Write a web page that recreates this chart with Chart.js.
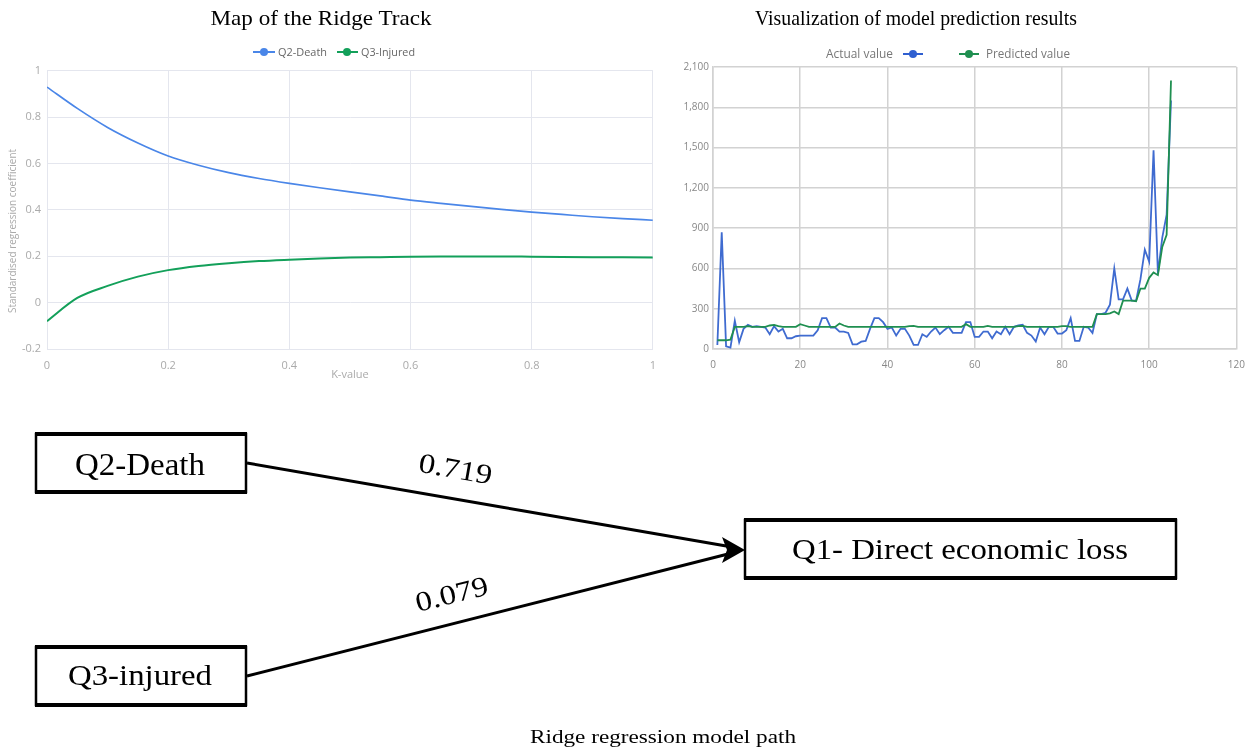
<!DOCTYPE html>
<html><head><meta charset="utf-8">
<script src="https://cdn.jsdelivr.net/npm/chart.js@4.4.1/dist/chart.umd.min.js"></script>
<style>
html,body{margin:0;padding:0;background:#fff;width:1258px;height:755px;overflow:hidden;position:relative;}
#c1{position:absolute;left:0;top:58px;}
#c2{position:absolute;left:670px;top:57px;}
#ov{position:absolute;left:0;top:0;pointer-events:none;}
</style></head><body>
<canvas id="c1" width="666" height="327"></canvas>
<canvas id="c2" width="585" height="323"></canvas>
<svg id="ov" width="1258" height="755" xmlns="http://www.w3.org/2000/svg">
  <g font-family="'Liberation Serif','Times New Roman',serif" fill="#000">
    <text x="321" y="25" text-anchor="middle" font-size="22" textLength="221" lengthAdjust="spacingAndGlyphs">Map of the Ridge Track</text>
    <text x="916" y="25" text-anchor="middle" font-size="21" textLength="322" lengthAdjust="spacingAndGlyphs">Visualization of model prediction results</text>
  </g>
  <!-- left legend -->
  <g font-family="'Open Sans',Roboto,sans-serif" font-size="11" fill="#666">
    <line x1="253" y1="52" x2="275" y2="52" stroke="#4a86e8" stroke-width="2"/>
    <circle cx="264" cy="52" r="4" fill="#4a86e8"/>
    <text x="278" y="56" textLength="49" lengthAdjust="spacingAndGlyphs">Q2-Death</text>
    <line x1="337" y1="52" x2="358" y2="52" stroke="#13a05a" stroke-width="2"/>
    <circle cx="347" cy="52" r="4" fill="#13a05a"/>
    <text x="361" y="56" textLength="54" lengthAdjust="spacingAndGlyphs">Q3-Injured</text>
  </g>
  <text transform="translate(16,231) rotate(-90)" text-anchor="middle" font-family="'Open Sans',Roboto,sans-serif" font-size="10" fill="#aaa">Standardised regression coefficient</text>
  <!-- right legend -->
  <g font-family="'Open Sans',Roboto,sans-serif" font-size="12" fill="#777">
    <text x="826" y="58" textLength="67" lengthAdjust="spacingAndGlyphs">Actual value</text>
    <line x1="903" y1="54" x2="923" y2="54" stroke="#2f5fd0" stroke-width="2"/>
    <circle cx="913" cy="54" r="4" fill="#2f5fd0"/>
    <line x1="959" y1="54" x2="979" y2="54" stroke="#1f8f50" stroke-width="2"/>
    <circle cx="969" cy="54" r="4" fill="#1f8f50"/>
    <text x="986" y="58" textLength="84" lengthAdjust="spacingAndGlyphs">Predicted value</text>
  </g>
  <!-- path diagram -->
  <g stroke="#000" fill="none">
    <rect x="36" y="434" width="210" height="58" stroke-width="2.5"/>
    <line x1="35" y1="434" x2="247" y2="434" stroke-width="4"/>
    <line x1="35" y1="492" x2="247" y2="492" stroke-width="4"/>
    <rect x="36" y="647" width="210" height="58" stroke-width="2.5"/>
    <line x1="35" y1="647" x2="247" y2="647" stroke-width="4"/>
    <line x1="35" y1="705" x2="247" y2="705" stroke-width="4"/>
    <rect x="745" y="520" width="431" height="58" stroke-width="2.5"/>
    <line x1="744" y1="520" x2="1177" y2="520" stroke-width="4"/>
    <line x1="744" y1="578" x2="1177" y2="578" stroke-width="4"/>
    <line x1="247" y1="463" x2="732" y2="547" stroke-width="3"/>
    <line x1="247" y1="676" x2="732" y2="553" stroke-width="3"/>
  </g>
  <polygon points="745,550 722,537 727,550 722,563" fill="#000"/>
  <g font-family="'Liberation Serif','Times New Roman',serif" fill="#000">
    <text x="75" y="475" font-size="31" textLength="130" lengthAdjust="spacingAndGlyphs">Q2-Death</text>
    <text x="68" y="685" font-size="30" textLength="144" lengthAdjust="spacingAndGlyphs">Q3-injured</text>
    <text x="792" y="559" font-size="30" textLength="336" lengthAdjust="spacingAndGlyphs">Q1- Direct economic loss</text>
    <text transform="translate(454,478) rotate(10)" text-anchor="middle" font-size="28" textLength="74" lengthAdjust="spacingAndGlyphs">0.719</text>
    <text transform="translate(454,603) rotate(-14)" text-anchor="middle" font-size="28" textLength="74" lengthAdjust="spacingAndGlyphs">0.079</text>
    <text x="663" y="743" text-anchor="middle" font-size="19" textLength="266" lengthAdjust="spacingAndGlyphs">Ridge regression model path</text>
  </g>
</svg>
<script>
// ---- Ridge trace data ----
const kValues = [0,0.05,0.1,0.15,0.2,0.25,0.3,0.35,0.4,0.45,0.5,0.55,0.6,0.65,0.7,0.75,0.8,0.85,0.9,0.95,1];
const deathCoef = [0.929,0.837,0.755,0.688,0.632,0.592,0.560,0.535,0.514,0.495,0.477,0.460,0.442,0.428,0.415,0.402,0.390,0.380,0.370,0.362,0.355];
const injuredCoef = [-0.080,0.020,0.072,0.112,0.140,0.158,0.170,0.179,0.185,0.190,0.194,0.196,0.198,0.199,0.199,0.199,0.198,0.197,0.196,0.195,0.194];
const ridgeSeriesNames = ['Q2-Death','Q3-Injured'];

// ---- Prediction data ----
const actualValue = [30,870,20,10,210,50,150,180,165,170,165,160,110,170,130,150,80,80,95,100,
  100,100,100,140,230,230,160,160,130,130,120,35,35,55,60,150,230,230,200,150,
  160,100,150,150,100,30,30,110,90,130,160,110,140,165,120,120,120,200,200,90,
  90,130,130,80,130,110,165,110,165,175,180,120,100,55,160,110,165,165,115,115,
  140,230,60,60,165,160,120,260,260,270,330,600,370,370,450,360,360,520,740,650,
  1480,560,830,1000,1850];
const predictedValue = [65,65,65,70,165,165,165,170,165,165,165,165,175,180,170,165,165,165,165,185,
  175,165,165,165,165,165,165,165,190,175,165,165,165,165,165,165,165,165,165,165,
  165,165,165,165,170,172,165,165,165,165,165,165,165,165,165,165,165,185,165,165,
  165,165,172,165,165,165,165,165,165,170,172,165,165,165,165,165,165,165,165,170,
  170,165,165,165,165,165,165,260,260,260,265,280,260,360,360,360,355,450,450,530,
  570,550,760,850,2000];
const predSeriesNames = ['Actual value','Predicted value'];
const xTicksRight = [0,20,40,60,80,100,120];
const yTicksRight = [0,300,600,900,1200,1500,1800,2100];

Chart.defaults.font.family = "'Open Sans', Roboto, sans-serif";
Chart.defaults.animation = false;

const fmt1 = v => String(Math.round(v * 10) / 10);

new Chart(document.getElementById('c1'), {
  type: 'line',
  data: {
    datasets: [
      { label: ridgeSeriesNames[0], data: kValues.map((k, i) => ({x: k, y: deathCoef[i]})),
        borderColor: '#4a86e8', borderWidth: 1.7, pointRadius: 0, cubicInterpolationMode: 'monotone', fill: false },
      { label: ridgeSeriesNames[1], data: kValues.map((k, i) => ({x: k, y: injuredCoef[i]})),
        borderColor: '#13a05a', borderWidth: 2, pointRadius: 0, cubicInterpolationMode: 'monotone', fill: false }
    ]
  },
  options: {
    responsive: false,
    layout: { padding: { top: 10, right: 10, left: 0, bottom: 0 } },
    plugins: { legend: { display: false }, tooltip: { enabled: false } },
    scales: {
      x: { type: 'linear', min: 0, max: 1,
        ticks: { stepSize: 0.2, padding: 10, color: '#aaa', font: { size: 11 }, callback: fmt1, maxRotation: 0 },
        grid: { color: '#e4e6ee', lineWidth: 1, drawTicks: false },
        border: { color: '#e4e6ee' },
        title: { display: true, text: 'K-value', color: '#aaa', font: { size: 11 }, padding: 4 },
        afterFit: s => { s.height = 36; } },
      y: { min: -0.2, max: 1,
        ticks: { stepSize: 0.2, padding: 6, color: '#aaa', font: { size: 11 }, callback: fmt1 },
        grid: { color: '#e4e6ee', lineWidth: 1, drawTicks: false },
        border: { color: '#e4e6ee' },
        afterFit: s => { s.width = 47; } }
    }
  }
});

const sampleNo = actualValue.map((_, i) => i + 1);
new Chart(document.getElementById('c2'), {
  type: 'line',
  data: {
    datasets: [
      { label: predSeriesNames[0], data: sampleNo.map((n, i) => ({x: n, y: actualValue[i]})),
        borderColor: '#3f6bd0', borderWidth: 1.8, pointRadius: 0, tension: 0, order: 1 },
      { label: predSeriesNames[1], data: sampleNo.map((n, i) => ({x: n, y: predictedValue[i]})),
        borderColor: '#1f8f50', borderWidth: 1.8, pointRadius: 0, tension: 0, order: 0 }
    ]
  },
  options: {
    responsive: false,
    layout: { padding: { top: 10, right: 14, left: 0, bottom: 0 } },
    plugins: { legend: { display: false }, tooltip: { enabled: false } },
    scales: {
      x: { type: 'linear', min: xTicksRight[0], max: xTicksRight[xTicksRight.length - 1],
        ticks: { stepSize: 20, padding: 10, color: '#888', font: { size: 10 }, maxRotation: 0 },
        grid: { color: '#d2d2d2', lineWidth: 1.5, drawTicks: false },
        border: { color: '#d2d2d2', width: 1.5 },
        afterFit: s => { s.height = 31; } },
      y: { min: yTicksRight[0], max: yTicksRight[yTicksRight.length - 1],
        ticks: { stepSize: 300, padding: 4, color: '#888', font: { size: 10 }, callback: v => v.toLocaleString('en-US') },
        grid: { color: '#d2d2d2', lineWidth: 1.5, drawTicks: false },
        border: { color: '#d2d2d2', width: 1.5 },
        afterFit: s => { s.width = 43; } }
    }
  }
});
</script>
</body></html>
